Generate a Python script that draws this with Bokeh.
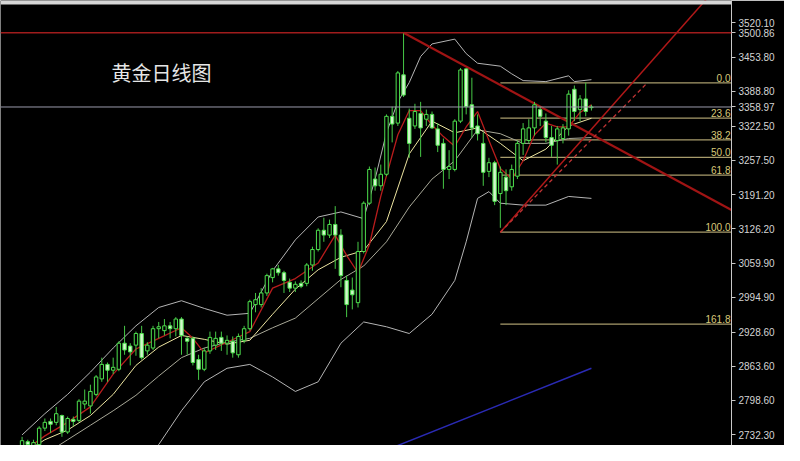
from bokeh.plotting import figure
from bokeh.models import (Range1d, FixedTicker, PrintfTickFormatter, Span, Label,
                          BoxAnnotation, ColumnDataSource)
from bokeh.embed import file_html
from bokeh.resources import INLINE

# ---------------- data ----------------
idx = list(range(101))
open_ = [2710.1, 2719.3, 2702.7, 2713.8, 2745.2, 2758.1, 2756.2, 2769.2, 2737.8, 2761.8,
         2760.0, 2791.3, 2787.6, 2809.7, 2839.3, 2867.0, 2855.9, 2857.7, 2907.5, 2902.0,
         2903.8, 2926.0, 2892.8, 2898.3, 2935.2, 2931.5, 2940.7, 2935.2, 2953.7, 2916.8,
         2916.8, 2876.2, 2857.7, 2892.8, 2903.8, 2918.6, 2907.5, 2911.2, 2885.4, 2913.0,
         2935.2, 2981.3, 2981.3, 3003.5, 3032.9, 3049.6, 3042.2, 3023.8, 3012.7, 3021.9,
         3021.9, 3057.0, 3086.5, 3123.4, 3114.2, 3134.5, 3114.2, 3027.5, 3009.0, 2985.0,
         3082.8, 3175.1, 3221.2, 3208.3, 3230.4, 3341.1, 3328.2, 3420.4, 3337.4, 3322.7,
         3346.6, 3335.6, 3344.8, 3317.1, 3289.4, 3239.6, 3239.6, 3331.9, 3431.8, 3363.2,
         3322.7, 3289.4, 3235.9, 3252.5, 3193.5, 3224.9, 3206.4, 3226.7, 3289.4, 3295.0,
         3319.0, 3354.0, 3331.9, 3300.5, 3295.0, 3298.7, 3317.1, 3392.8, 3354.0, 3374.3,
         3357.7]
high = [2728.6, 2723.0, 2723.0, 2748.9, 2763.6, 2763.6, 2785.8, 2771.0, 2767.3, 2767.3,
        2800.5, 2819.0, 2828.2, 2846.6, 2879.9, 2870.6, 2879.9, 2911.2, 2940.7, 2907.5,
        2929.7, 2940.7, 2909.4, 2940.7, 2948.1, 2953.7, 2948.1, 2957.3, 2957.3, 2920.4,
        2920.4, 2885.4, 2898.3, 2929.7, 2929.7, 2929.7, 2922.3, 2920.4, 2926.0, 2940.7,
        2990.6, 3003.5, 3012.7, 3040.4, 3051.4, 3057.1, 3045.9, 3031.1, 3025.6, 3027.5,
        3060.7, 3092.0, 3127.1, 3147.4, 3143.7, 3169.5, 3125.3, 3036.7, 3033.0, 3101.3,
        3178.7, 3245.2, 3243.3, 3248.9, 3344.8, 3359.6, 3427.8, 3500.86, 3355.9, 3365.1,
        3368.8, 3354.0, 3350.3, 3328.2, 3298.7, 3276.5, 3335.6, 3433.4, 3433.4, 3414.9,
        3344.8, 3309.7, 3261.8, 3256.2, 3245.2, 3239.6, 3248.9, 3295.0, 3328.2, 3335.6,
        3368.8, 3359.6, 3346.6, 3322.7, 3322.7, 3326.3, 3390.9, 3400.1, 3381.7, 3405.7,
        3363.2]
low = [2702.7, 2708.3, 2695.4, 2710.1, 2739.6, 2735.9, 2750.7, 2728.6, 2734.1, 2748.9,
       2756.2, 2782.1, 2772.8, 2806.1, 2833.7, 2833.7, 2848.5, 2854.0, 2885.4, 2865.1,
       2883.5, 2876.2, 2885.4, 2894.6, 2916.8, 2922.3, 2916.8, 2920.4, 2885.4, 2885.4,
       2865.1, 2837.4, 2854.0, 2887.2, 2894.6, 2892.8, 2885.4, 2879.9, 2879.9, 2907.5,
       2931.5, 2966.6, 2975.8, 2997.9, 3023.8, 3036.7, 3003.5, 3005.3, 3005.3, 3012.7,
       3016.4, 3045.9, 3082.8, 3101.3, 3108.6, 3049.6, 3014.5, 2957.3, 2972.1, 2975.8,
       3079.1, 3171.4, 3199.0, 3199.0, 3226.7, 3291.3, 3322.7, 3378.0, 3261.8, 3317.1,
       3263.6, 3322.7, 3317.1, 3272.8, 3202.7, 3221.2, 3235.9, 3328.2, 3344.8, 3300.5,
       3295.0, 3208.3, 3224.9, 3171.4, 3128.0, 3171.4, 3199.0, 3221.2, 3267.3, 3289.4,
       3304.2, 3322.7, 3291.3, 3263.6, 3248.9, 3289.4, 3304.2, 3331.9, 3331.9, 3341.1,
       3352.2]
close = [2721.2, 2713.8, 2717.5, 2745.2, 2756.2, 2752.5, 2772.8, 2737.8, 2763.6, 2758.1,
         2796.8, 2796.8, 2815.3, 2843.0, 2867.0, 2855.9, 2861.4, 2907.5, 2894.6, 2890.9,
         2926.0, 2879.9, 2903.8, 2935.2, 2938.9, 2940.7, 2935.2, 2953.7, 2922.3, 2911.2,
         2870.6, 2857.7, 2892.8, 2918.6, 2916.8, 2907.5, 2913.0, 2889.1, 2920.4, 2935.2,
         2986.9, 2990.6, 3003.5, 3036.7, 3049.6, 3042.2, 3027.5, 3012.7, 3020.1, 3016.4,
         3057.0, 3086.5, 3123.4, 3114.2, 3134.5, 3114.2, 3036.7, 2981.3, 3000.0, 3082.8,
         3175.1, 3239.6, 3208.3, 3230.4, 3341.1, 3326.3, 3424.1, 3381.7, 3289.4, 3350.3,
         3319.0, 3344.8, 3319.0, 3285.8, 3239.6, 3245.2, 3331.9, 3429.7, 3359.6, 3319.0,
         3307.9, 3234.1, 3252.5, 3178.7, 3234.1, 3199.0, 3239.6, 3289.4, 3317.1, 3319.0,
         3363.2, 3341.1, 3300.5, 3285.8, 3317.1, 3319.0, 3383.5, 3350.3, 3374.3, 3350.3,
         3358.97]

# moving averages / Bollinger bands
ma_red_x = [0, 4, 8, 12, 16, 20, 24, 28, 30, 32, 36, 40, 44, 48, 52, 55, 57, 59, 61, 63,
            66, 68, 70, 72, 74, 76, 78, 80, 82, 84, 86, 88, 90, 92, 94, 96, 98, 100]
ma_red = [2699.0, 2730.4, 2756.2, 2785.8, 2848.5, 2896.5, 2916.8, 2937.0, 2916.8, 2889.1,
          2909.4, 2929.7, 3012.7, 3031.1, 3060.7, 3114.2, 3075.4, 3042.2, 3095.7, 3188.0,
          3306.0, 3352.2, 3352.2, 3324.5, 3302.4, 3283.9, 3320.8, 3350.3, 3295.0, 3241.5,
          3221.2, 3256.2, 3306.0, 3328.2, 3320.8, 3320.8, 3348.5, 3363.2]
ma_x = [0, 4, 8, 12, 16, 20, 24, 28, 32, 36, 40, 44, 48, 52, 56, 60, 64, 68, 72, 76,
        80, 84, 88, 92, 96, 100]
ma_yellow = [2695.4, 2723.0, 2741.5, 2769.2, 2809.7, 2865.1, 2900.1, 2922.3, 2914.9, 2905.7,
             2913.1, 2962.9, 3010.8, 3047.8, 3071.7, 3084.6, 3140.0, 3269.2, 3331.9, 3309.7,
             3319.0, 3289.4, 3256.2, 3278.4, 3322.7, 3337.4]
bb_mid = [2667.7, 2695.4, 2723.0, 2750.7, 2778.4, 2807.9, 2844.8, 2879.9, 2898.3, 2909.4,
          2916.8, 2937.0, 2955.5, 2992.4, 3029.3, 3055.1, 3101.3, 3167.7, 3221.2, 3256.2,
          3315.3, 3307.9, 3289.4, 3289.4, 3298.7, 3300.5]
bb_up_x = [0, 4, 8, 12, 16, 20, 24, 28, 32, 36, 40, 44, 48, 52, 56, 60, 62, 64, 66, 68,
           70, 72, 76, 78, 80, 84, 86, 88, 92, 96, 97, 100]
bb_up = [2732.3, 2772.8, 2809.7, 2852.2, 2898.3, 2940.7, 2975.8, 2988.7, 2974.0, 2961.0,
         2964.7, 3045.9, 3105.0, 3148.7, 3158.4, 3145.5, 3221.2, 3309.7, 3368.8, 3405.7,
         3455.5, 3479.5, 3488.7, 3461.0, 3442.6, 3437.0, 3422.3, 3409.4, 3407.5, 3418.6,
         3407.5, 3411.2]
bb_lo_x = [20, 24, 28, 32, 36, 40, 44, 48, 52, 56, 60, 64, 68, 72, 76, 78, 80, 82, 84, 88,
           92, 96, 100]
bb_lo = [2676.9, 2713.8, 2778.4, 2833.7, 2859.6, 2867.0, 2843.0, 2815.3, 2833.7, 2907.5,
         2948.1, 2938.9, 2926.0, 2962.9, 3027.5, 3101.3, 3184.3, 3197.2, 3175.1, 3171.4,
         3171.4, 3188.0, 3184.3]

# price levels / drawing objects
y_ticks = [3520.10, 3453.80, 3388.80, 3322.50, 3257.50, 3191.20, 3126.20, 3059.90,
           2994.90, 2928.60, 2863.60, 2798.60, 2732.30]
peak_level = 3500.86
last_price = 3358.97
fib_low, fib_high = 3120.0, 3405.0
fib_ratios = [0.0, 0.236, 0.382, 0.5, 0.618, 1.0, 1.618]
fib_texts = ["0.0", "23.6", "38.2", "50.0", "61.8", "100.0", "161.8"]
fib_start = 84
down_trend_x, down_trend_y = [67, 124.6], [3500.86, 3162.0]
up_trend_x, up_trend_y = [84, 121], [3119.7, 3575.0]
fib_diag_x, fib_diag_y = [84, 109.8], [3119.7, 3405.0]
blue_x, blue_y = [60, 100], [2686.0, 2859.6]
title = "黄金日线图"

# ---------------- figure ----------------
X0, X1 = -3.79, 124.6
Y0, Y1 = 2712.0, 3562.5
p = figure(width=784, height=445, x_range=Range1d(X0, X1), y_range=Range1d(Y0, Y1),
           output_backend="svg", toolbar_location=None, x_axis_location=None,
           y_axis_location="right", background_fill_color="black",
           border_fill_color="black", min_border_left=0, min_border_top=0,
           min_border_bottom=0, min_border_right=53)
p.outline_line_color = None
p.grid.visible = False

ax = p.yaxis[0]
ax.ticker = FixedTicker(ticks=y_ticks + [peak_level, last_price])
ax.formatter = PrintfTickFormatter(format="%.2f")
ax.axis_line_color = "#c8c8c8"
ax.major_tick_line_color = "#c8c8c8"
ax.major_tick_in = 0
ax.major_tick_out = 4
ax.minor_tick_out = 0
ax.minor_tick_in = 0
ax.major_label_text_color = "#d4d4d4"
ax.major_label_text_font = "Liberation Sans"
ax.major_label_text_font_size = "10px"
ax.major_label_standoff = 3

# top window strip
p.add_layout(BoxAnnotation(bottom=3555.0, fill_color="#d6d6d6", fill_alpha=1.0,
                           line_color=None))

# horizontal lines
p.add_layout(Span(location=peak_level, dimension="width", line_color="#a01c1c",
                  line_width=1.5))
p.add_layout(Span(location=last_price, dimension="width", line_color="#9a9aac",
                  line_width=1))

# fibonacci
for r, t in zip(fib_ratios, fib_texts):
    lvl = fib_high - r * (fib_high - fib_low)
    p.line([fib_start, X1], [lvl, lvl], line_color="#a89c6c", line_width=1.3)
    p.add_layout(Label(x=X1, y=lvl, text=t, text_align="right", text_baseline="bottom",
                       x_offset=-1, y_offset=1, text_color="#d8c878",
                       text_font="Liberation Sans", text_font_size="10px"))

# bollinger + MAs
p.line(bb_up_x, bb_up, line_color="#b4b4b4", line_width=1)
p.line(bb_lo_x, bb_lo, line_color="#b4b4b4", line_width=1)
p.line(ma_x, bb_mid, line_color="#a8a898", line_width=1)
p.line(ma_x, ma_yellow, line_color="#ece4a0", line_width=1)
p.line(ma_red_x, ma_red, line_color="#b81c1c", line_width=1.3)

# trend lines
p.line(down_trend_x, down_trend_y, line_color="#a01414", line_width=2.2)
p.line(up_trend_x, up_trend_y, line_color="#b01818", line_width=1.5)
p.line(fib_diag_x, fib_diag_y, line_color="#c03434", line_width=1.3, line_dash="4 3")
p.line(blue_x, blue_y, line_color="#2a2ab4", line_width=1.5)

# candles
up_i = [i for i in idx if close[i] >= open_[i]]
dn_i = [i for i in idx if close[i] < open_[i]]
p.segment(x0=idx, y0=low, x1=idx, y1=high, line_color="#46c846", line_width=1)
up_src = ColumnDataSource(dict(x=up_i, top=[close[i] for i in up_i],
                               bottom=[open_[i] for i in up_i]))
dn_src = ColumnDataSource(dict(x=dn_i, top=[open_[i] for i in dn_i],
                               bottom=[close[i] for i in dn_i]))
p.vbar(x="x", top="top", bottom="bottom", width=0.6, source=up_src,
       fill_color="black", line_color="#4ee04e", line_width=1)
p.vbar(x="x", top="top", bottom="bottom", width=0.6, source=dn_src,
       fill_color="#d2f7cc", line_color="#4ee04e", line_width=1)

# title
p.add_layout(Label(x=15.7, y=3424.0, text=title, text_baseline="middle",
                   text_color="#e6e6e6", text_font="Noto Sans CJK SC",
                   text_font_size="20px"))

open("out.html", "w").write(file_html(p, INLINE))
